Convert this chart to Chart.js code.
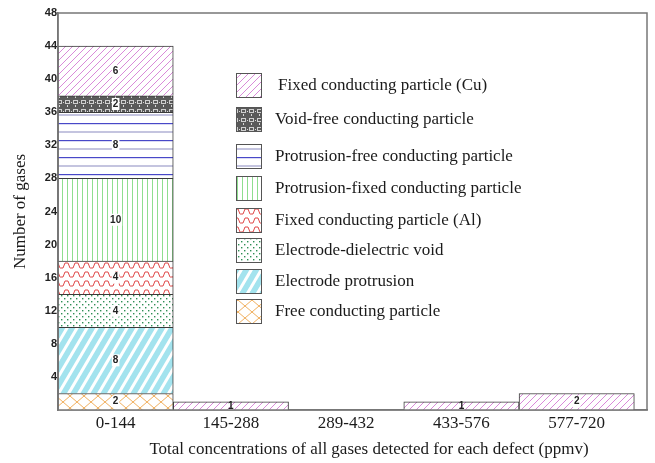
<!DOCTYPE html>
<html>
<head>
<meta charset="utf-8">
<script src="https://cdn.jsdelivr.net/npm/chart.js@4.4.1/dist/chart.umd.min.js"></script>
<style>
html, body { margin: 0; padding: 0; background: #fff; }
</style>
</head>
<body>
<canvas id="cht_gases" width="655" height="463"></canvas>
<script>
"use strict";

// ranges of total gas concentration (ppmv)
var rangeLabels = ['0-144', '145-288', '289-432', '433-576', '577-720'];

// number of gases per defect type, bottom of the stack first
var freeParticle      = [2, null, null, null, null];
var electrodeProt     = [8, null, null, null, null];
var electrodeVoid     = [4, null, null, null, null];
var fixedParticleAl   = [4, null, null, null, null];
var protFixedParticle = [10, null, null, null, null];
var protFreeParticle  = [8, null, null, null, null];
var voidFreeParticle  = [2, null, null, null, null];
var fixedParticleCu   = [6, 1, null, 1, 2];

var defectNames = [
	'Free conducting particle',
	'Electrode protrusion',
	'Electrode-dielectric void',
	'Fixed conducting particle (Al)',
	'Protrusion-fixed conducting particle',
	'Protrusion-free conducting particle',
	'Void-free conducting particle',
	'Fixed conducting particle (Cu)'
];

var xTitle = 'Total concentrations of all gases detected for each defect (ppmv)';

var serif = '"Liberation Serif", "Times New Roman", serif';
var canvas = document.getElementById('cht_gases');
var mainCtx = canvas.getContext('2d');

function makePattern(w, h, draw) {
	var c = document.createElement('canvas');
	c.width = w;
	c.height = h;
	var g = c.getContext('2d');
	draw(g, w, h);
	return mainCtx.createPattern(c, 'repeat');
}

// slanted lines y = h - (h/w)x + n*h, drawn for the neighbouring rows too so tiles join up
function slash(g, w, h) {
	for (var n = -1; n <= 1; n++) {
		g.beginPath();
		g.moveTo(-1, h + n * h + h / w);
		g.lineTo(w + 1, n * h - h / w);
		g.stroke();
	}
}
function backslash(g, w, h) {
	for (var n = -1; n <= 1; n++) {
		g.beginPath();
		g.moveTo(-1, n * h - h / w);
		g.lineTo(w + 1, h + n * h + h / w);
		g.stroke();
	}
}

var patFree = makePattern(14, 12, function (g, w, h) {
	g.fillStyle = '#fff'; g.fillRect(0, 0, w, h);
	g.strokeStyle = '#f0b060'; g.lineWidth = 1;
	slash(g, w, h); backslash(g, w, h);
});
var patProt = makePattern(10, 17, function (g, w, h) {
	g.fillStyle = '#a3e3ee'; g.fillRect(0, 0, w, h);
	g.strokeStyle = '#fff'; g.lineWidth = 3;
	slash(g, w, h);
});
var patVoid = makePattern(6, 6, function (g, w, h) {
	g.fillStyle = '#fff'; g.fillRect(0, 0, w, h);
	g.fillStyle = '#2f8f55';
	g.fillRect(1, 1, 1.4, 1.4);
	g.fillRect(4, 4, 1.4, 1.4);
});
var patAl = makePattern(10, 9, function (g, w, h) {
	g.fillStyle = '#fff'; g.fillRect(0, 0, w, h);
	g.strokeStyle = '#e04848'; g.lineWidth = 1;
	g.beginPath();
	g.moveTo(0, 7); g.lineTo(3, 7); g.lineTo(5, 2); g.lineTo(8, 2); g.lineTo(10, 7);
	g.stroke();
});
var patProtFixed = makePattern(5, 4, function (g, w, h) {
	g.fillStyle = '#fff'; g.fillRect(0, 0, w, h);
	g.fillStyle = '#8ede8e'; g.fillRect(2, 0, 1, h);
});
var patProtFree = makePattern(4, 17, function (g, w, h) {
	g.fillStyle = '#fff'; g.fillRect(0, 0, w, h);
	g.fillStyle = '#4848c8'; g.fillRect(0, 4, w, 1.2);
	g.fillStyle = '#8a8ac0'; g.fillRect(0, 12.5, w, 1);
});
var patVoidFree = makePattern(8, 9, function (g, w, h) {
	g.fillStyle = '#5a5a5a'; g.fillRect(0, 0, w, h);
	g.strokeStyle = '#cfcfcf'; g.lineWidth = 1;
	g.strokeRect(1.5, 1.5, 4, 3);
	g.fillStyle = '#d8d8d8';
	g.fillRect(3, 6, 1, 2);
	g.fillRect(7, 3, 1, 1);
});
var patCu = makePattern(7, 7, function (g, w, h) {
	g.fillStyle = '#fff'; g.fillRect(0, 0, w, h);
	g.strokeStyle = '#d98ad9'; g.lineWidth = 1;
	slash(g, w, h);
});

var seriesValues = [freeParticle, electrodeProt, electrodeVoid, fixedParticleAl,
	protFixedParticle, protFreeParticle, voidFreeParticle, fixedParticleCu];
var seriesFills = [patFree, patProt, patVoid, patAl, patProtFixed, patProtFree, patVoidFree, patCu];

// bars sit at the middle of each 1-unit range on a linear x scale
function toPoints(values) {
	var pts = [];
	for (var i = 0; i < values.length; i++) {
		pts.push({ x: i + 0.5, y: values[i] });
	}
	return pts;
}

var datasets = [];
for (var i = 0; i < seriesValues.length; i++) {
	datasets.push({
		label: defectNames[i],
		data: toPoints(seriesValues[i]),
		backgroundColor: seriesFills[i],
		borderColor: '#3a3a3a',
		borderWidth: 1,
		barPercentage: 1,
		categoryPercentage: 1
	});
}

// legend row centres, top row first
var legendRows = [85, 119, 156, 188, 220, 250, 281, 311];

var frameBox = {
	id: 'frameBox',
	afterDraw: function (chart) {
		var a = chart.chartArea, ctx = chart.ctx;
		ctx.save();
		ctx.strokeStyle = '#777';
		ctx.lineWidth = 1.5;
		ctx.strokeRect(a.left, a.top, a.right - a.left, a.bottom - a.top);
		// x axis title, sits a little right of the plot centre
		ctx.font = '17px ' + serif;
		ctx.fillStyle = '#1a1a1a';
		ctx.textAlign = 'center';
		ctx.textBaseline = 'middle';
		ctx.fillText(xTitle, 369, 450);
		ctx.restore();
	}
};

var segmentLabels = {
	id: 'segmentLabels',
	afterDatasetsDraw: function (chart) {
		var ctx = chart.ctx;
		ctx.save();
		ctx.font = 'bold 10px "Liberation Sans", Arial, sans-serif';
		ctx.textAlign = 'center';
		ctx.textBaseline = 'middle';
		chart.data.datasets.forEach(function (ds, di) {
			chart.getDatasetMeta(di).data.forEach(function (bar, i) {
				var v = ds.data[i].y;
				if (v == null) return;
				var txt = String(v);
				var cy = (bar.y + bar.base) / 2;
				if (bar.base - bar.y > 12) {
					var tw = ctx.measureText(txt).width;
					ctx.fillStyle = '#fff';
					ctx.fillRect(bar.x - tw / 2 - 1, cy - 6, tw + 2, 12);
				}
				ctx.fillStyle = '#222';
				ctx.fillText(txt, bar.x, cy);
			});
		});
		ctx.restore();
	}
};

var boxLegend = {
	id: 'boxLegend',
	afterDraw: function (chart) {
		var ctx = chart.ctx;
		var ds = chart.data.datasets;
		ctx.save();
		ctx.font = '17px ' + serif;
		ctx.textBaseline = 'middle';
		ctx.textAlign = 'left';
		for (var r = 0; r < legendRows.length; r++) {
			var d = ds[ds.length - 1 - r];
			var y = legendRows[r];
			ctx.fillStyle = d.backgroundColor;
			ctx.fillRect(236, y - 12, 26, 25);
			ctx.strokeStyle = '#555';
			ctx.lineWidth = 1;
			ctx.strokeRect(236.5, y - 11.5, 25, 24);
			ctx.fillStyle = '#1a1a1a';
			ctx.fillText(d.label, r === 0 ? 278 : 275, y + 1);
		}
		ctx.restore();
	}
};

var gasesChart = new Chart(mainCtx, {
	type: 'bar',
	data: { datasets: datasets },
	options: {
		responsive: false,
		animation: false,
		layout: { padding: { top: 13, right: 8, left: 0, bottom: 0 } },
		plugins: {
			legend: { display: false },
			tooltip: { enabled: false }
		},
		scales: {
			x: {
				type: 'linear',
				stacked: true,
				offset: false,
				min: 0,
				max: 5.11,
				afterBuildTicks: function (scale) {
					scale.ticks = rangeLabels.map(function (l, i) { return { value: i + 0.5 }; });
				},
				afterFit: function (scale) { scale.height = 53; },
				grid: { display: false, drawTicks: false },
				border: { display: true, color: '#777', width: 1.5 },
				ticks: {
					autoSkip: false,
					maxRotation: 0,
					padding: 3,
					color: '#1a1a1a',
					font: { family: serif, size: 17 },
					callback: function (value, index) { return rangeLabels[index]; }
				}
			},
			y: {
				stacked: true,
				min: 0,
				max: 48,
				afterFit: function (scale) { scale.width = 58; },
				grid: { display: false, drawTicks: false },
				border: { display: true, color: '#777', width: 1.5 },
				ticks: {
					stepSize: 4,
					padding: 1,
					color: '#222',
					font: { family: '"Liberation Sans Narrow", "Liberation Sans", Arial, sans-serif', size: 11, weight: 'bold' },
					callback: function (value) { return value === 0 ? '' : value; }
				},
				title: {
					display: true,
					text: 'Number of gases',
					color: '#1a1a1a',
					font: { family: serif, size: 17 },
					padding: { top: 10, bottom: 0 }
				}
			}
		}
	},
	plugins: [frameBox, segmentLabels, boxLegend]
});
</script>
</body>
</html>
